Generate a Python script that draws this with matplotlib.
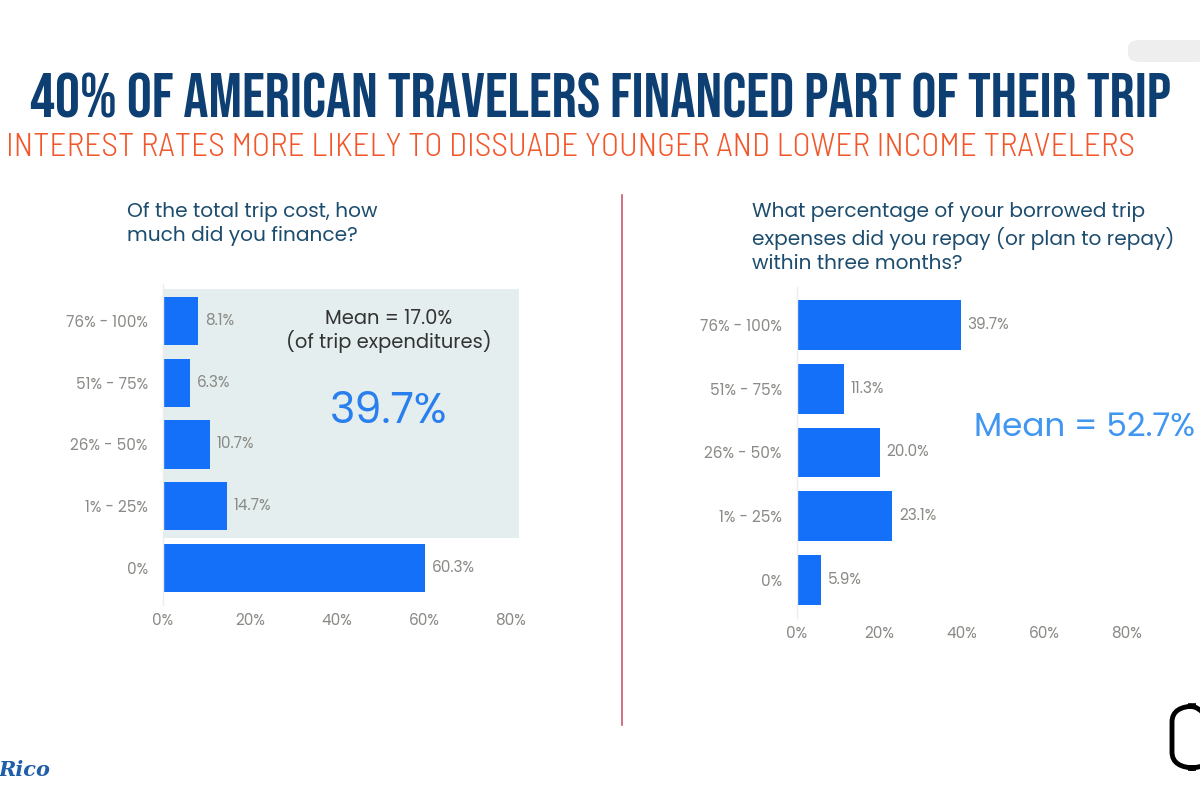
import matplotlib
matplotlib.use("Agg")
import matplotlib.pyplot as plt
from matplotlib.patches import Rectangle, FancyBboxPatch
from matplotlib.lines import Line2D

# ---------------- data ----------------
categories = ["0%", "1% - 25%", "26% - 50%", "51% - 75%", "76% - 100%"]
financed_share = [60.3, 14.7, 10.7, 6.3, 8.1]
repaid_share = [5.9, 23.1, 20.0, 11.3, 39.7]
x_ticks = [0, 20, 40, 60, 80]
x_tick_labels = ["0%", "20%", "40%", "60%", "80%"]

title = "40% OF AMERICAN TRAVELERS FINANCED PART OF THEIR TRIP"
subtitle = "INTEREST RATES MORE LIKELY TO DISSUADE YOUNGER AND LOWER INCOME TRAVELERS"
q_left = "Of the total trip cost, how\nmuch did you finance?"
q_right = "What percentage of your borrowed trip\nexpenses did you repay (or plan to repay)\nwithin three months?"
mean_left = "Mean = 17.0%\n(of trip expenditures)"
big_left = "39.7%"
mean_right = "Mean = 52.7%"

BAR = "#1470f8"
GRAY = "#8a8a86"
NAVY = "#0e3f73"
ORANGE = "#f2572b"
QCOL = "#1d4d6e"
BODY = ["Poppins", "DejaVu Sans"]
HEAD = ["Bebas Neue", "DejaVu Sans"]
SUB = ["Barlow Semi Condensed", "DejaVu Sans"]

fig = plt.figure(figsize=(12, 8), dpi=100)
fig.patch.set_facecolor("white")

def px_axes(x0, x1, ytop, ybot):
    return fig.add_axes([x0 / 1200, 1 - ybot / 800, (x1 - x0) / 1200, (ybot - ytop) / 800])

def style(ax, xpad):
    ax.set_xlim(0, 80)
    ax.set_ylim(-0.6, 4.6)
    for s in ["top", "right", "bottom"]:
        ax.spines[s].set_visible(False)
    ax.spines["left"].set_color("#ececec")
    ax.spines["left"].set_linewidth(1)
    ax.set_xticks(x_ticks)
    ax.set_xticklabels(x_tick_labels, fontsize=11, color=GRAY, family=BODY)
    ax.set_yticks(range(len(categories)))
    ax.set_yticklabels(categories, fontsize=11, color=GRAY, family=BODY)
    ax.tick_params(length=0, pad=11)
    ax.tick_params(axis="x", pad=xpad)
    ax.set_facecolor("none")

# ---------------- left chart ----------------
axL = px_axes(163, 511, 284, 605)
style(axL, 6)
axL.add_patch(Rectangle((0, 0.49), 81.8, 4.03, facecolor="#e4eeee", edgecolor="none",
                        zorder=0, clip_on=False))
axL.barh(range(len(categories)), financed_share, height=0.78, color=BAR, zorder=2)
for i, v in enumerate(financed_share):
    axL.text(v + 1.6, i, f"{v:.1f}%", va="center", ha="left", fontsize=11, color=GRAY, family=BODY)
axL.text(51.8, 3.84, mean_left, ha="center", va="center", fontsize=14, color="#333333",
         family=BODY, linespacing=1.05)
axL.text(51.8, 2.52, big_left, ha="center", va="center", fontsize=31, color="#2a7fee", family=BODY)

# ---------------- right chart ----------------
axR = px_axes(797, 1127, 287, 618)
style(axR, 6)
axR.barh(range(len(categories)), repaid_share, height=0.78, color=BAR, zorder=2)
for i, v in enumerate(repaid_share):
    axR.text(v + 1.6, i, f"{v:.1f}%", va="center", ha="left", fontsize=11, color=GRAY, family=BODY)
fig.text(974 / 1200, 1 - 428 / 800, mean_right, ha="left", va="center", fontsize=23.5,
         color="#4096f0", family=BODY)

# ---------------- text ----------------
fig.text(600 / 1200, 1 - 96 / 800, title, ha="center", va="center", fontsize=45,
         color=NAVY, fontweight="bold", family=HEAD)
fig.text(571 / 1200, 1 - 148 / 800, subtitle, ha="center", va="center", fontsize=24,
         color=ORANGE, fontweight=300, fontstretch="semi-condensed", family=SUB)
fig.text(127 / 1200, 1 - 202 / 800, q_left, ha="left", va="top", fontsize=14.5, color=QCOL,
         family=BODY, linespacing=1.25)
fig.text(752 / 1200, 1 - 202 / 800, q_right, ha="left", va="top", fontsize=14.5, color=QCOL,
         family=BODY, linespacing=1.28)

# divider
fig.add_artist(Line2D([622 / 1200, 622 / 1200], [1 - 195 / 800, 1 - 725 / 800],
                      color="#c9576f", linewidth=1.2))

# decorative logos
fig.text(-2 / 1200, 1 - 770 / 800, "Rico", ha="left", va="center", fontsize=15,
         color="#1f5ea8", fontweight="bold", style="italic", family="DejaVu Serif")
fig.add_artist(FancyBboxPatch((1172 / 1200, 1 - 768 / 800), 40 / 1200, 62 / 800,
                              boxstyle="round,pad=0,rounding_size=0.02",
                              facecolor="none", edgecolor="black", linewidth=3.5))
fig.add_artist(FancyBboxPatch((1128 / 1200, 1 - 62 / 800), 80 / 1200, 22 / 800,
                              boxstyle="round,pad=0,rounding_size=0.01",
                              facecolor="#eeeeee", edgecolor="none", zorder=0))

fig.savefig("out.png", dpi=100, facecolor="white")
